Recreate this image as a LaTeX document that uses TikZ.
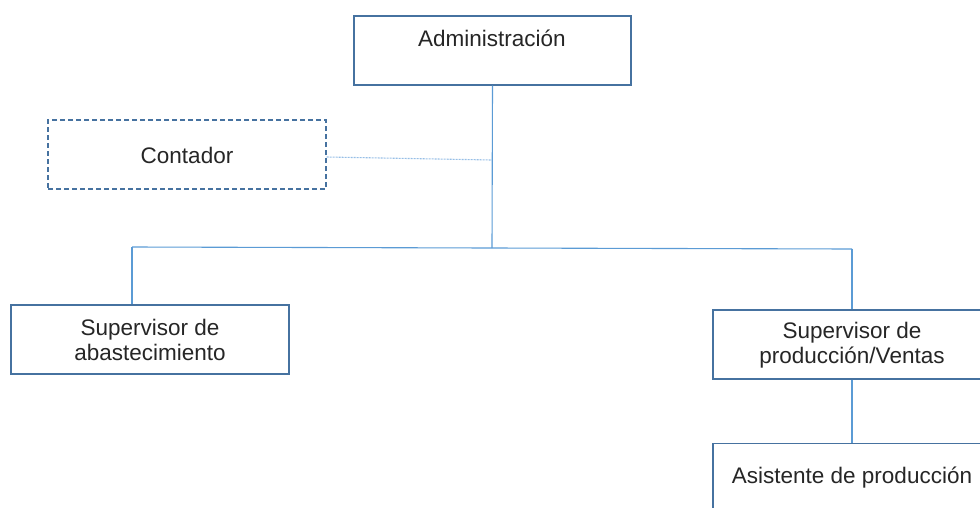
\documentclass[tikz,border=0pt]{standalone}
\usepackage{fontspec}
\setmainfont{Liberation Sans}
\definecolor{boxc}{RGB}{70,114,160}
\definecolor{linec}{RGB}{91,155,213}
\definecolor{dashc}{RGB}{150,190,230}
\begin{document}
\begin{tikzpicture}[x=1pt,y=-1pt,
  box/.style={draw=boxc, line width=1.2pt, fill=white, rectangle, inner sep=0pt},
  dbox/.style={box, dashed, dash pattern=on 5pt off 3pt},
  lbl/.style={font=\fontsize{22.5}{25}\selectfont, align=center, text=black!85},
  conn/.style={draw=linec, line width=1.1pt},
  dconn/.style={draw=dashc, line width=1.1pt, dash pattern=on 2pt off 1pt}]
\useasboundingbox (0,0) rectangle (980,507);
\clip (0,0) rectangle (980,507);
% boxes
\node[box, minimum width=277pt, minimum height=69pt] (adm) at (492.5,50.5) {};
\node[lbl] (admt) at (492,38) {Administración};
\node[dbox, minimum width=278pt, minimum height=69pt] (cont) at (187,154.5) {};
\node[lbl] (contt) at (187,155) {Contador};
\node[box, minimum width=278pt, minimum height=69pt] (abas) at (150,339.5) {};
\node[lbl] (abast) at (150,340) {Supervisor de\\abastecimiento};
\node[box, minimum width=278pt, minimum height=69pt] (prod) at (852,344.5) {};
\node[lbl] (prodt) at (852,345) {Supervisor de\\producción/Ventas};
\node[box, minimum width=278pt, minimum height=100pt, anchor=north] (asis) at (852,443) {};
\node[lbl] (asist) at (852,478) {Asistente de producción};
% connectors
\coordinate (j) at (492,160);
\coordinate (h) at (492,248);
\coordinate (hl) at (132,247);
\coordinate (hr) at (852,249);
\draw[conn] (adm.south) -- (h);
\draw[dconn] ([yshift=-2.5pt]cont.east) -- (j);
\draw[conn] (hl) -- (hr);
\draw[conn] (hl) -- (abas.north -| hl);
\draw[conn] (hr) -- (prod.north);
\draw[conn] (prod.south) -- (asis.north);
\end{tikzpicture}
\end{document}
